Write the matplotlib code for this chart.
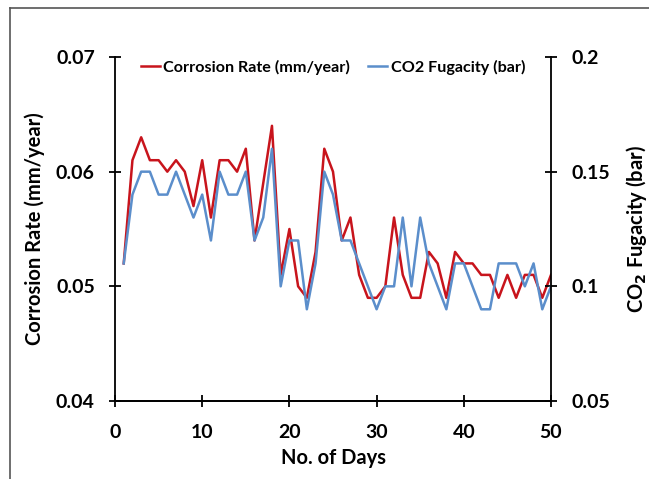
import matplotlib.pyplot as plt
import numpy as np
from matplotlib.lines import Line2D

plt.rcParams['font.family'] = ['Lato', 'DejaVu Sans']

days = np.arange(1, 51)
corrosion_rate = [0.052, 0.061, 0.063, 0.061, 0.061, 0.060, 0.061, 0.060, 0.057, 0.061,
                  0.056, 0.061, 0.061, 0.060, 0.062, 0.054, 0.059, 0.064, 0.051, 0.055,
                  0.050, 0.049, 0.053, 0.062, 0.060, 0.054, 0.056, 0.051, 0.049, 0.049,
                  0.050, 0.056, 0.051, 0.049, 0.049, 0.053, 0.052, 0.049, 0.053, 0.052,
                  0.052, 0.051, 0.051, 0.049, 0.051, 0.049, 0.051, 0.051, 0.049, 0.051]
co2_fugacity = [0.11, 0.14, 0.15, 0.15, 0.14, 0.14, 0.15, 0.14, 0.13, 0.14,
                0.12, 0.15, 0.14, 0.14, 0.15, 0.12, 0.13, 0.16, 0.10, 0.12,
                0.12, 0.09, 0.11, 0.15, 0.14, 0.12, 0.12, 0.11, 0.10, 0.09,
                0.10, 0.10, 0.13, 0.10, 0.13, 0.11, 0.10, 0.09, 0.11, 0.11,
                0.10, 0.09, 0.09, 0.11, 0.11, 0.11, 0.10, 0.11, 0.09, 0.10]

red = '#C8141C'
blue = '#5B8ECB'

fig = plt.figure(figsize=(6.49, 4.79), dpi=100)
ax = fig.add_axes([0.1772, 0.1628, 0.6718, 0.7182])
ax2 = ax.twinx()

l1, = ax.plot(days, corrosion_rate, color=red, lw=1.8, label='Corrosion Rate (mm/year)')
l2, = ax2.plot(days, co2_fugacity, color=blue, lw=1.8, label='CO2 Fugacity (bar)')

ax.set_xlim(0, 50)
ax.set_ylim(0.04, 0.07)
ax2.set_ylim(0.05, 0.2)
ax.set_xticks([0, 10, 20, 30, 40, 50])
ax.set_yticks([0.04, 0.05, 0.06, 0.07])
ax2.set_yticks([0.05, 0.1, 0.15, 0.2])
ax2.set_yticklabels(['0.05', '0.1', '0.15', '0.2'])

for a in (ax, ax2):
    a.spines['top'].set_visible(False)
    for s in a.spines.values():
        s.set_linewidth(1.3)
    a.tick_params(direction='inout', length=9, width=1.3, labelsize=14, pad=10)
    for lab in a.get_xticklabels() + a.get_yticklabels():
        lab.set_fontweight('bold')
ax2.spines['left'].set_visible(False)
ax.spines['right'].set_visible(False)
ax.tick_params(axis='x', pad=12)

ax.set_xlabel('No. of Days', fontsize=14.5, fontweight='bold', labelpad=5)
ax.set_ylabel('Corrosion Rate (mm/year)', fontsize=14.5, fontweight='bold', labelpad=8)
ax2.set_ylabel('CO$_\\mathbf{2}$ Fugacity (bar)', fontsize=14.5, fontweight='bold', labelpad=10)

ax.legend([l1, l2], [l1.get_label(), l2.get_label()], loc='upper center',
          bbox_to_anchor=(0.5, 1.035), ncol=2, frameon=False, handlelength=1.2,
          handletextpad=0.2, columnspacing=1.1, prop={'size': 11.6, 'weight': 'bold'})

# chart-area border
fig.add_artist(Line2D([10 / 649, 1], [1 - 8 / 479, 1 - 8 / 479], color='#555555', lw=1.2))
fig.add_artist(Line2D([10 / 649, 10 / 649], [0, 1 - 8 / 479], color='#555555', lw=1.2))

fig.savefig('out.png', dpi=100)
